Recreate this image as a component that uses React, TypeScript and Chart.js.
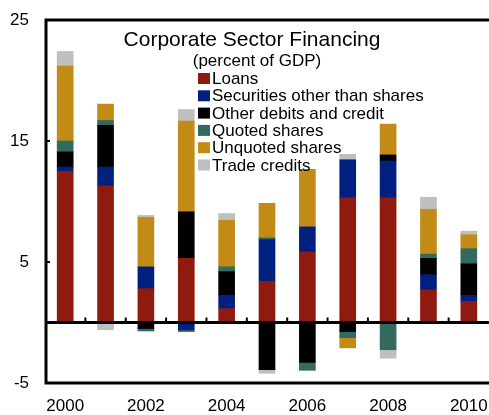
import React, { useEffect, useRef } from "react";
import { Chart, registerables } from "chart.js";

Chart.register(...registerables);

const years = ["2000", "2001", "2002", "2003", "2004", "2005", "2006", "2007", "2008", "2009", "2010"];
const loans = [12.5, 11.3, 2.8, 5.3, 1.15, 3.4, 5.85, 10.3, 10.3, 2.7, 1.75];
const securities = [0.35, 1.55, 1.8, -0.6, 1.1, 3.45, 2.05, 3.15, 3.05, 1.25, 0.5];
const otherDebits = [1.25, 3.45, -0.5, 3.85, 1.95, -3.9, -3.3, -0.75, 0.5, 1.35, 2.6];
const quoted = [0.9, 0.4, -0.2, -0.15, 0.4, 0.15, -0.65, -0.5, -2.25, 0.35, 1.25];
const unquoted = [6.2, 1.35, 4.1, 7.5, 3.85, 2.85, 4.75, -0.85, 2.55, 3.7, 1.15];
const tradeCredits = [1.2, -0.6, 0.15, 0.95, 0.55, -0.3, 0, 0.45, -0.7, 1.0, 0.3];

const seriesLabels = [
  "Loans",
  "Securities other than shares",
  "Other debits and credit",
  "Quoted shares",
  "Unquoted shares",
  "Trade credits",
];
const seriesColors = ["#8E1A10", "#00207F", "#000000", "#326A5F", "#C28B16", "#BFBFBF"];
const title = "Corporate Sector Financing";
const subtitle = "(percent of GDP)";

const FONT = "'Liberation Sans', Arial, sans-serif";

const framePlugin = {
  id: "frame",
  afterDatasetsDraw(chart: any) {
    const { ctx, chartArea } = chart;
    const y = chart.scales.y;
    const x = chart.scales.x;
    const { left, right, top, bottom } = chartArea;
    ctx.save();
    ctx.strokeStyle = "#000";
    ctx.lineWidth = 3;
    ctx.beginPath();
    ctx.moveTo(left + 1, top);
    ctx.lineTo(right, top);
    ctx.moveTo(left + 1, bottom);
    ctx.lineTo(right, bottom);
    ctx.moveTo(left + 1, top - 1.5);
    ctx.lineTo(left + 1, bottom + 1.5);
    const zy = y.getPixelForValue(0);
    ctx.moveTo(left, zy);
    ctx.lineTo(right, zy);
    ctx.stroke();
    // y tick marks (inside)
    ctx.lineWidth = 2;
    ctx.beginPath();
    [5, 15].forEach((v) => {
      const py = y.getPixelForValue(v);
      ctx.moveTo(left, py);
      ctx.lineTo(left + 5, py);
    });
    // category tick marks on zero line
    for (let i = 0; i < years.length - 1; i++) {
      const px = (x.getPixelForValue(i) + x.getPixelForValue(i + 1)) / 2;
      ctx.moveTo(px, zy);
      ctx.lineTo(px, zy - 5);
    }
    ctx.stroke();

    // title and legend
    ctx.fillStyle = "#000";
    ctx.textBaseline = "alphabetic";
    ctx.textAlign = "center";
    ctx.font = `21px ${FONT}`;
    ctx.fillText(title, 252, 45.5);
    ctx.font = `17px ${FONT}`;
    ctx.fillText(subtitle, 257, 65.5);
    ctx.textAlign = "left";
    chart.data.datasets.forEach((ds: any, i: number) => {
      const by = 84 + i * 17.3;
      ctx.fillStyle = ds.backgroundColor;
      ctx.fillRect(198, by - 11, 12, 11);
      ctx.fillStyle = "#000";
      ctx.fillText(ds.label, 212, by);
    });
    ctx.restore();
  },
};

export default function App() {
  const ref = useRef<HTMLCanvasElement | null>(null);
  useEffect(() => {
    if (!ref.current) return;
    const seriesData = [loans, securities, otherDebits, quoted, unquoted, tradeCredits];
    const chart = new Chart(ref.current, {
      type: "bar",
      data: {
        labels: years,
        datasets: seriesData.map((d, i) => ({
          label: seriesLabels[i],
          data: d,
          backgroundColor: seriesColors[i],
          borderWidth: 0,
          barThickness: 16,
        })),
      },
      options: {
        animation: false,
        responsive: false,
        maintainAspectRatio: false,
        layout: { padding: { top: 20, right: 0, left: 0, bottom: 0 } },
        plugins: {
          legend: { display: false },
          title: { display: false },
          tooltip: { enabled: false },
        },
        scales: {
          x: {
            stacked: true,
            grid: { display: false, drawTicks: false },
            border: { display: false },
            ticks: {
              autoSkip: false,
              maxRotation: 0,
              padding: 13,
              color: "#000",
              font: { family: FONT, size: 17 },
              callback: (_v: any, i: number) => (i % 2 === 0 ? years[i] : ""),
            },
            afterFit: (s: any) => {
              s.height = 32;
              s.paddingLeft = 0;
              s.paddingRight = 0;
            },
          },
          y: {
            stacked: true,
            min: -5,
            max: 25,
            grid: { display: false, drawTicks: false },
            border: { display: false },
            ticks: {
              stepSize: 10,
              padding: 16,
              color: "#000",
              font: { family: FONT, size: 17 },
            },
            afterFit: (s: any) => {
              s.width = 45;
              s.paddingTop = 0;
              s.paddingBottom = 0;
            },
          },
        },
      },
      plugins: [framePlugin],
    });
    return () => chart.destroy();
  }, []);
  return (
    <div style={{ position: "absolute", left: 0, top: 0, width: 489, height: 415, background: "#fff" }}>
      <canvas ref={ref} width={489} height={415} />
    </div>
  );
}
